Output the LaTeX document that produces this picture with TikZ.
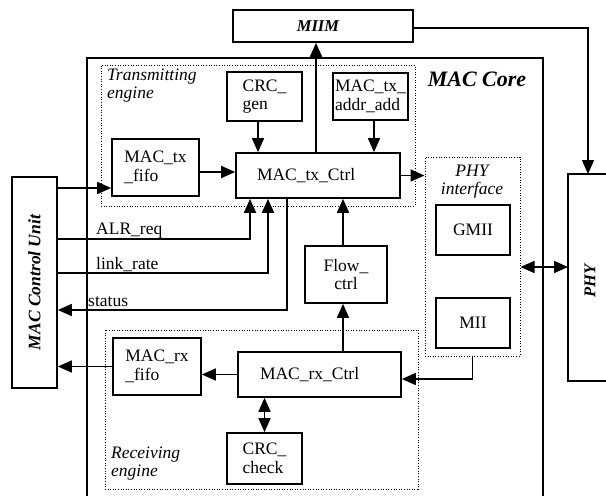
\documentclass[tikz,border=0pt]{standalone}
\usepackage{fontspec}
\setmainfont{Liberation Serif}
\usetikzlibrary{arrows.meta}
\newcommand{\us}{\textunderscore}
\begin{document}
\begin{tikzpicture}[x=1pt,y=-1pt,
  txt/.style={font=\fontsize{17.5}{18.5}\selectfont},
  box/.style={draw, line width=1.7pt, inner sep=0pt, align=left, txt},
  dotbox/.style={draw, line width=1pt, dash pattern=on 1pt off 1.6pt, inner sep=0pt},
  tip/.tip={Triangle[length=14pt,width=12pt]},
  conn/.style={line width=1.7pt, -tip},
  dconn/.style={line width=1.7pt, tip-tip},
  lab/.style={txt, inner sep=0pt},
  ilab/.style={font=\fontsize{17.5}{18}\selectfont\itshape, inner sep=0pt, align=left},
  blab/.style={font=\fontsize{17.5}{18}\selectfont\bfseries\itshape, inner sep=0pt},
]
\useasboundingbox (0,0) rectangle (606,496);

% MAC Core frame
\draw[line width=1.7pt] (87,500) -- (87,58) -- (543,58) -- (543,500);
\node[font=\fontsize{22}{24}\selectfont\bfseries\itshape, inner sep=0pt] (core) at (477,79) {MAC Core};

% dotted groups
\node[dotbox, minimum width=314pt, minimum height=141pt] (txeng) at (258,135.5) {};
\node[dotbox, minimum width=95pt, minimum height=199pt] (phyif) at (472.5,256.5) {};
\node[dotbox, minimum width=313pt, minimum height=159pt] (rxeng) at (261.5,409.5) {};

\node[ilab, anchor=north west] (txlab) at (107,69) {Transmitting\\engine};
\node[ilab, anchor=north west] (rxlab) at (111,447) {Receiving\\engine};
\node[ilab, align=center, anchor=north] (phyiflab) at (472,165) {PHY\\interface};

% boxes
\node[box, minimum width=180pt, minimum height=32pt, align=center,
      font=\fontsize{16.5}{18}\selectfont\bfseries\itshape] (miim) at (323,26) {\hspace*{-10pt}MIIM};
\node[box, minimum width=75pt, minimum height=49pt] (crcgen) at (264.5,96.5) {CRC\us\\gen};
\node[box, minimum width=75pt, minimum height=47pt] (addr) at (370.5,96.5) {MAC\us tx\us\\addr\us add};
\node[box, minimum width=87pt, minimum height=57pt] (txfifo) at (155.5,167.5) {MAC\us tx\\\us fifo};
\node[box, minimum height=45pt, inner xsep=21pt, text width=122pt] (txctrl) at (318,175.5) {MAC\us tx\us Ctrl};
\node[box, minimum width=74pt, minimum height=50pt] (gmii) at (473,230) {GMII};
\node[box, minimum width=74pt, minimum height=50pt] (mii) at (473,323) {MII};
\node[box, minimum width=82pt, minimum height=57pt, align=center] (flow) at (346,274.5) {Flow\us\\ctrl};
\node[box, minimum width=88pt, minimum height=57pt] (rxfifo) at (157,366.5) {MAC\us rx\\\us fifo};
\node[box, minimum height=45pt, inner xsep=22pt, text width=119pt] (rxctrl) at (319.5,374.5) {MAC\us rx\us Ctrl};
\node[box, minimum width=75pt, minimum height=51pt] (crccheck) at (264.5,458.5) {CRC\us\\check};
\node[box, minimum width=45pt, minimum height=211pt] (mcu) at (34.5,282.5) {};
\node[blab, rotate=90] (mculab) at (mcu.center) {MAC Control Unit};

% PHY
\draw[line width=1.7pt] (610,174) -- (568,174) -- (568,381) -- (610,381);
\coordinate (phytop) at (588,174);
\coordinate (phyleft) at (568,267);
\node[blab, rotate=90, font=\fontsize{16.5}{18}\selectfont\bfseries\itshape] (phylab) at (590,281) {PHY};

% signal labels
\node[lab, anchor=base west] (alr) at (96,234) {ALR\us req};
\node[lab, anchor=base west] (lr) at (96,269) {link\us rate};
\node[lab, anchor=base west] (st) at (88,306) {status};

% connectors
\draw[conn] (txfifo.east |- 0,172) -- (txctrl.west |- 0,172);
\draw[conn] (crcgen.south -| 258,0) -- (txctrl.north -| 258,0);
\draw[conn] (addr.south -| 374,0) -- (txctrl.north -| 374,0);
\draw[conn] (txctrl.north -| 316,0) -- (miim.south -| 316,0);
\draw[conn] (txctrl.east) -- (phyif.west |- txctrl.east);
\draw[conn] (mcu.east |- 0,188) -- (txfifo.west |- 0,188);
\draw[conn] (mcu.east |- 0,239) -| (txctrl.south -| 250,0);
\draw[conn] (mcu.east |- 0,273) -| (txctrl.south -| 268,0);
\draw[conn] (txctrl.south -| 287,0) |- (mcu.east |- 0,310);
\draw[conn] (flow.north -| 343,0) -- (txctrl.south -| 343,0);
\draw[conn] (rxctrl.north -| 343,0) -- (flow.south -| 343,0);
\draw[conn] (rxctrl.west) -- (rxfifo.east |- rxctrl.west);
\draw[conn] (rxfifo.west) -- (mcu.east |- rxfifo.west);
\draw[dconn] (rxctrl.south -| crccheck.north) -- (crccheck.north);
\draw[conn] (phyif.south) |- (rxctrl.east |- 0,379);
\draw[dconn] (phyif.east |- phyleft) -- (phyleft);
\draw[conn] (miim.east |- 0,28) -| (phytop);
\end{tikzpicture}
\end{document}
